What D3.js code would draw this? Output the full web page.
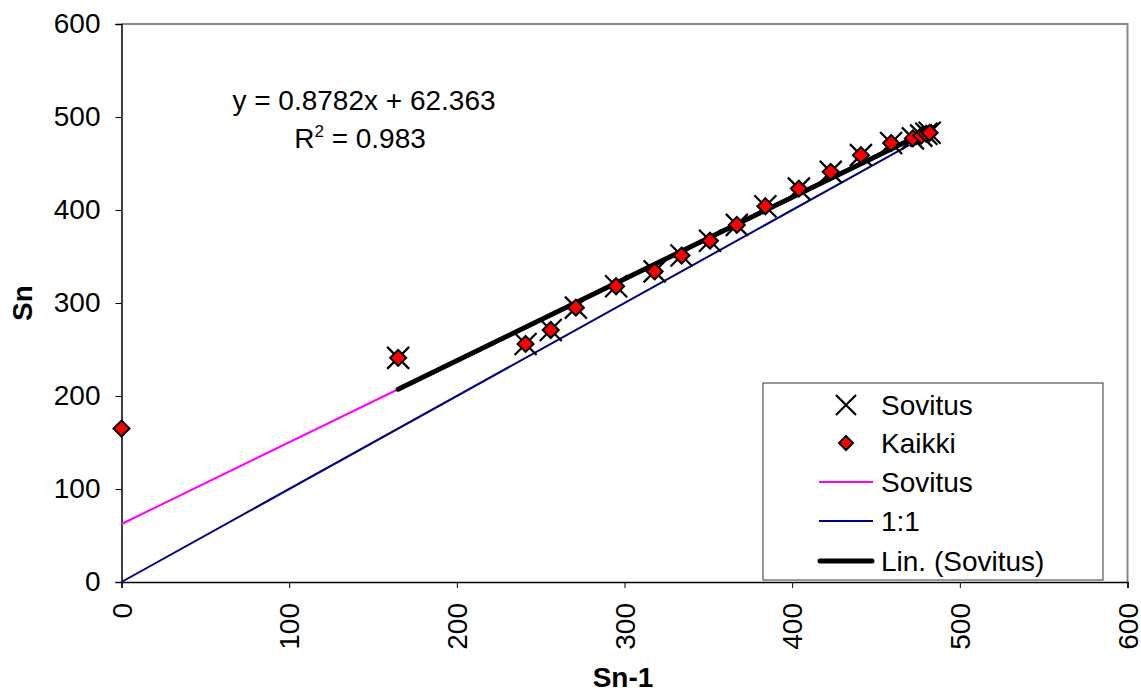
<!DOCTYPE html>
<html><head><meta charset="utf-8">
<script src="https://cdn.jsdelivr.net/npm/d3@7"></script>
<style>body{margin:0;background:#fff}svg{display:block;font-family:"Liberation Sans",Arial,sans-serif}</style>
</head><body><svg id="c" width="1141" height="690"></svg>
<script>
// Data
const snPrev = [0, 165, 241, 256, 271, 295, 318, 334, 351, 367, 384, 404, 423, 441, 459, 472, 477, 480, 482];
const sn     = [165, 241, 256, 271, 295, 318, 334, 351, 367, 384, 404, 423, 441, 459, 472, 477, 480, 482, 483];
const fitStartIndex = 1; // "Sovitus" series excludes the first point
const slope = 0.8782, intercept = 62.363, r2 = 0.983;
const fitLineX = [0, 165];      // magenta "Sovitus" line
const oneToOneX = [0, 470];     // 1:1 line
const xTicks = [0,100,200,300,400,500,600];
const yTicks = [0,100,200,300,400,500,600];
const legendLabels = ["Sovitus","Kaikki","Sovitus","1:1","Lin. (Sovitus)"];

const FS = 28;
const svg = d3.select("#c");
const L=121.5, R=1127.5, T=24, B=582;
const x = d3.scaleLinear().domain([0,600]).range([L,R]);
const y = d3.scaleLinear().domain([0,600]).range([B,T]);

// plot border (top/right gray)
svg.append("path").attr("d",`M${L},${T}H${R}V${B}`).attr("fill","none").attr("stroke","#888").attr("stroke-width",2);

// axes
const yAxis = svg.append("g").attr("transform",`translate(${L},0)`)
  .call(d3.axisLeft(y).tickValues(yTicks).tickSize(6).tickPadding(15).tickFormat(d3.format("d")));
yAxis.selectAll("text").attr("font-size",FS).attr("fill","#000");
const xAxis = svg.append("g").attr("transform",`translate(0,${B})`)
  .call(d3.axisBottom(x).tickValues(xTicks).tickSize(6).tickFormat(d3.format("d")));
xAxis.selectAll("text").attr("font-size",FS).attr("fill","#000")
  .attr("transform","rotate(-90)").attr("text-anchor","end").attr("dy","0.35em").attr("dx",0)
  .attr("x",-21).attr("y",0);
[yAxis,xAxis].forEach(a=>{a.select(".domain").attr("stroke","#000").attr("stroke-width",1.5);a.selectAll("line").attr("stroke","#000");});
yAxis.selectAll(".tick line").attr("x1",-6).attr("x2",0);

// axis titles
svg.append("text").attr("transform",`translate(32,303) rotate(-90)`).attr("text-anchor","middle")
  .attr("font-size",FS).attr("font-weight","bold").text("Sn");
svg.append("text").attr("x",623).attr("y",687).attr("text-anchor","middle")
  .attr("font-size",FS).attr("font-weight","bold").text("Sn-1");

const line = d3.line().x(d=>x(d[0])).y(d=>y(d[1]));
// 1:1 line
svg.append("path").attr("d",line(oneToOneX.map(v=>[v,v]))).attr("stroke","#000080").attr("stroke-width",2).attr("fill","none");
// magenta fit line
svg.append("path").attr("d",line(fitLineX.map(v=>[v,slope*v+intercept]))).attr("stroke","#ff00ff").attr("stroke-width",2).attr("fill","none");

const pts = snPrev.map((v,i)=>[v,sn[i]]);
const fitPts = pts.slice(fitStartIndex);

// X markers
function xMark(g,cx,cy,h){
  g.append("path").attr("d",`M${cx-h},${cy-h}L${cx+h},${cy+h}M${cx-h},${cy+h}L${cx+h},${cy-h}`)
   .attr("stroke","#000").attr("stroke-width",2.2).attr("fill","none");
}
const gx = svg.append("g");
fitPts.forEach(d=>xMark(gx,x(d[0]),y(d[1]),11));

// trendline
const tx = d3.extent(fitPts,d=>d[0]);
svg.append("path").attr("d",line(tx.map(v=>[v,slope*v+intercept]))).attr("stroke","#000").attr("stroke-width",5).attr("stroke-linecap","round").attr("fill","none");

// diamonds
function diamond(g,cx,cy,h){
  g.append("path").attr("d",`M${cx},${cy-h}L${cx+h},${cy}L${cx},${cy+h}L${cx-h},${cy}Z`)
   .attr("fill","#ff0000").attr("stroke","#000").attr("stroke-width",2);
}
const gd = svg.append("g");
pts.forEach(d=>diamond(gd,x(d[0]),y(d[1]),8));

// equation
svg.append("text").attr("x",364).attr("y",110).attr("text-anchor","middle").attr("font-size",FS).text(`y = ${slope}x + ${intercept}`);
const rt = svg.append("text").attr("x",360).attr("y",148).attr("text-anchor","middle").attr("font-size",FS);
rt.append("tspan").text("R");
rt.append("tspan").attr("font-size",17).attr("dy",-11).text("2");
rt.append("tspan").attr("dy",11).text(` = ${r2}`);

// legend
const lg = svg.append("g");
lg.append("rect").attr("x",763).attr("y",383).attr("width",340).attr("height",197).attr("fill","#fff").attr("stroke","#333").attr("stroke-width",1);
const ly = [405,443,482,521,561];
legendLabels.forEach((t,i)=>{
  lg.append("text").attr("x",881).attr("y",ly[i]).attr("dy","0.36em").attr("font-size",FS).text(t);
});
xMark(lg,846,ly[0],10);
diamond(lg,846,ly[1],7);
lg.append("line").attr("x1",819).attr("x2",873).attr("y1",ly[2]).attr("y2",ly[2]).attr("stroke","#ff00ff").attr("stroke-width",2);
lg.append("line").attr("x1",819).attr("x2",873).attr("y1",ly[3]).attr("y2",ly[3]).attr("stroke","#000080").attr("stroke-width",2);
lg.append("line").attr("x1",820).attr("x2",872).attr("y1",ly[4]).attr("y2",ly[4]).attr("stroke","#000").attr("stroke-width",5).attr("stroke-linecap","round");
</script></body></html>
